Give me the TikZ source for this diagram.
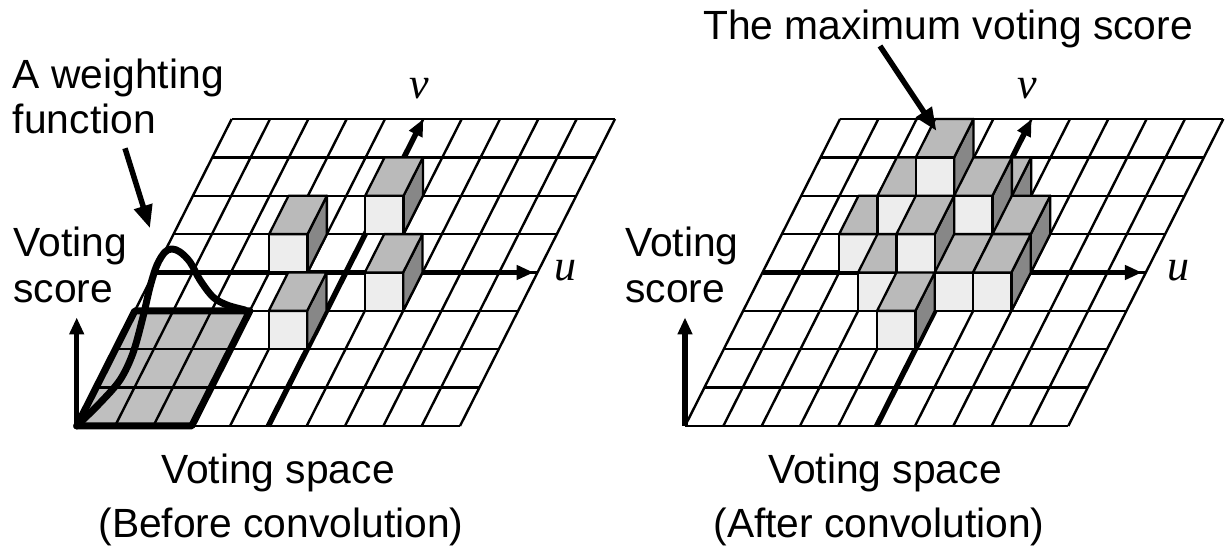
\documentclass[tikz,border=0pt]{standalone}
\usepackage{fontspec}
\setmainfont{Liberation Sans}
\newfontfamily\tmsfont{Liberation Serif}
\usetikzlibrary{arrows.meta}
\newcommand\votebar[3]{%
  \filldraw[sideface] (#1+1,#2,0) -- (#1+1,#2+1,0) -- (#1+1,#2+1,#3) -- (#1+1,#2,#3) -- cycle;
  \filldraw[frontface] (#1,#2,0) -- (#1+1,#2,0) -- (#1+1,#2,#3) -- (#1,#2,#3) -- cycle;
  \filldraw[topface] (#1,#2,#3) -- (#1+1,#2,#3) -- (#1+1,#2+1,#3) -- (#1,#2+1,#3) -- cycle;
}
\begin{document}
\begin{tikzpicture}[x=1pt,y=1pt,
  gridline/.style={line width=2.4pt},
  axisline/.style={line width=5.5pt,-{Triangle[length=17pt,width=14pt]}},
  frontface/.style={fill=black!7,draw=black,line width=2.3pt,line join=round},
  topface/.style={fill=black!27,draw=black,line width=2.3pt,line join=round},
  sideface/.style={fill=black!47,draw=black,line width=2.3pt,line join=round},
  lbl/.style={font=\fontsize{40.8}{46}\selectfont,inner sep=0pt},
  axlbl/.style={font=\fontsize{44}{46}\selectfont\tmsfont\itshape,inner sep=0pt},
  bigarrow/.style={line width=5.5pt,-{Triangle[length=23pt,width=18pt]}},
  wfline/.style={line width=7pt,line join=round,line cap=round},
  gridframe/.style={x={(38.33pt,0pt)},y={(19.375pt,38.375pt)},z={(0pt,38.375pt)}}
]
\useasboundingbox (0,0) rectangle (1227,554);

% ---------------- left voting space ----------------
\begin{scope}[shift={(76.7pt,128pt)},gridframe]
  \fill[black!25] (0,0) -- (3,0) -- (3,3) -- (0,3) -- cycle;
  \foreach \i in {0,...,10} \draw[gridline] (\i,0) -- (\i,8);
  \foreach \j in {0,...,8} \draw[gridline] (0,\j) -- (10,\j);
  \draw[wfline] (0,0) -- (3,0) -- (3,3) -- (0,3) -- cycle;
  \draw[axisline] (0,4) -- (9.9,4);
  \draw[axisline] (5,0) -- (5,8);
  \votebar{5}{5}{1}
  \votebar{3}{4}{1}
  \votebar{6}{3}{1}
  \votebar{4}{2}{1}
  \draw[axisline] (0,0,0) -- (0,0,2.83);
\end{scope}
\draw[wfline] plot[smooth,tension=0.55] coordinates
  {(76.7,128) (100,151) (120,174) (133,201) (143,237) (150,267) (157,289) (165,302)
   (172,305) (180,302) (190,292) (200,274) (213,257) (227,249) (245,244)};

% ---------------- right voting space ----------------
\begin{scope}[shift={(685pt,128pt)},gridframe]
  \foreach \i in {0,...,10} \draw[gridline] (\i,0) -- (\i,8);
  \foreach \j in {0,...,8} \draw[gridline] (0,\j) -- (10,\j);
  \draw[axisline] (0,4) -- (9.9,4);
  \draw[axisline] (5,0) -- (5,8);
  \votebar{5}{5}{1}
  \votebar{2}{4}{1}
  \votebar{3}{4}{2}
  \votebar{4}{4}{3}
  \votebar{5}{4}{2}
  \votebar{6}{4}{1}
  \votebar{3}{3}{1}
  \votebar{4}{3}{2}
  \votebar{5}{3}{1}
  \votebar{6}{3}{1}
  \votebar{4}{2}{1}
  \draw[axisline] (0,0,0) -- (0,0,2.83);
\end{scope}

% ---------------- labels ----------------
\node[lbl,anchor=base west] (wf1) at (12.7,465.7) {A weighting};
\node[lbl,anchor=base west] (wf2) at (12.7,420.7) {function};
\coordinate (wfs) at (125,405.7);
\coordinate (wft) at (150,325.7);
\draw[bigarrow] (wfs) -- (wft);

\node[lbl,anchor=base west] (vs1) at (13.3,297.3) {Voting};
\node[lbl,anchor=base west] (vs2) at (13.3,251.7) {score};
\node[axlbl] (vl) at (419,465) {v};
\node[axlbl] (ul) at (565,283) {u};
\node[lbl,anchor=base] (t1) at (278,70) {Voting space};
\node[lbl,anchor=base] (t2) at (281,16) {(Before convolution)};

\node[lbl,anchor=base west] (mx) at (703,514) {The maximum voting score};
\coordinate (mxs) at (880,508);
\coordinate (mxt) at (936.5,423);
\draw[bigarrow] (mxs) -- (mxt);
\node[lbl,anchor=base west] (vr1) at (625,297.3) {Voting};
\node[lbl,anchor=base west] (vr2) at (625,251.7) {score};
\node[axlbl] (vr) at (1027,465) {v};
\node[axlbl] (ur) at (1178,283) {u};
\node[lbl,anchor=base] (t3) at (885,70) {Voting space};
\node[lbl,anchor=base] (t4) at (879,16) {(After convolution)};
\end{tikzpicture}
\end{document}
